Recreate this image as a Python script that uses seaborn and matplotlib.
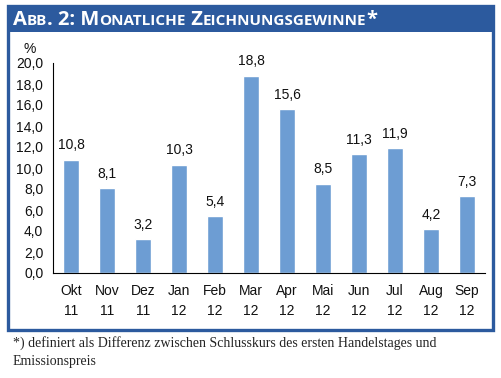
import matplotlib
matplotlib.use("Agg")
import matplotlib.pyplot as plt
import seaborn as sns
import pandas as pd
from matplotlib.patches import Rectangle

months = ["Okt\n11", "Nov\n11", "Dez\n11", "Jan\n12", "Feb\n12", "Mar\n12",
          "Apr\n12", "Mai\n12", "Jun\n12", "Jul\n12", "Aug\n12", "Sep\n12"]
gewinne = [10.8, 8.1, 3.2, 10.3, 5.4, 18.8, 15.6, 8.5, 11.3, 11.9, 4.2, 7.3]
y_ticks = [0, 2, 4, 6, 8, 10, 12, 14, 16, 18, 20]

df = pd.DataFrame({"monat": months, "wert": gewinne})

sns.set_theme(style="white")
plt.rcParams["font.family"] = ["Liberation Sans", "DejaVu Sans"]

W, H = 501, 378
fig = plt.figure(figsize=(W / 100, H / 100), dpi=100)
ax = fig.add_axes([53 / W, 1 - 273 / H, (485 - 53) / W, (273 - 63) / H])

sns.barplot(data=df, x="monat", y="wert", color="#6D9DD3", width=0.46,
            saturation=1, ax=ax)

for i, v in enumerate(gewinne):
    ax.text(i, v + 0.7, f"{v:.1f}".replace(".", ","), ha="center", va="bottom",
            fontsize=10, color="#111111")

ax.set_ylim(0, 20)
ax.set_xlim(-0.5, len(months) - 0.5)
ax.set_yticks(y_ticks)
ax.set_yticklabels([f"{t:.1f}".replace(".", ",") for t in y_ticks], fontsize=10)
ax.set_xticks(range(len(months)))
ax.set_xticklabels(months, fontsize=10, linespacing=1.55)
ax.set_xticks([i - 0.5 for i in range(1, len(months) + 1)], minor=True)
ax.tick_params(axis="x", which="major", length=0, pad=8, colors="#111111")
ax.tick_params(axis="x", which="minor", length=4, width=0.8, color="black", direction="out")
ax.tick_params(axis="y", length=4, width=0.8, color="black", direction="out",
               pad=3, colors="#111111")
ax.tick_params(axis="y", color="black")
ax.set_xlabel("")
ax.set_ylabel("")
for s in ["top", "right"]:
    ax.spines[s].set_visible(False)
for s in ["left", "bottom"]:
    ax.spines[s].set_color("black")
    ax.spines[s].set_linewidth(0.8)

ax.text(-0.055, 1.035, "%", transform=ax.transAxes, ha="center", va="bottom",
        fontsize=10, color="#111111")

# Rahmen und Titelbalken
blue = "#2C5A9E"
fig.patches.append(Rectangle((8 / W, 1 - 330 / H), (493 - 8) / W, (330 - 6) / H,
                             transform=fig.transFigure, fill=False,
                             edgecolor=blue, linewidth=2.4))
fig.patches.append(Rectangle((7 / W, 1 - 32 / H), (494 - 7) / W, (32 - 5) / H,
                             transform=fig.transFigure, facecolor=blue,
                             edgecolor=blue, linewidth=0))

# Titel in Kapitälchen
title_parts = [("A", 14.5), ("BB", 11), (". 2: M", 14.5), ("ONATLICHE", 11),
               (" Z", 14.5), ("EICHNUNGSGEWINNE", 11), ("*", 14.5)]
fig.canvas.draw()
renderer = fig.canvas.get_renderer()
x = 13
for txt, size in title_parts:
    t = fig.text(x / W, 1 - 25 / H, txt, fontsize=size, color="white",
                 fontweight="bold", family=["Open Sans", "DejaVu Sans"],
                 va="baseline", ha="left")
    bb = t.get_window_extent(renderer)
    x += bb.width

fig.text(13 / W, 1 - 352 / H,
         "*) definiert als Differenz zwischen Schlusskurs des ersten Handelstages und\nEmissionspreis",
         fontsize=10, family=["Liberation Serif", "DejaVu Serif"], color="#222222",
         va="center", ha="left", linespacing=1.45)

fig.savefig("out.png", dpi=100)
